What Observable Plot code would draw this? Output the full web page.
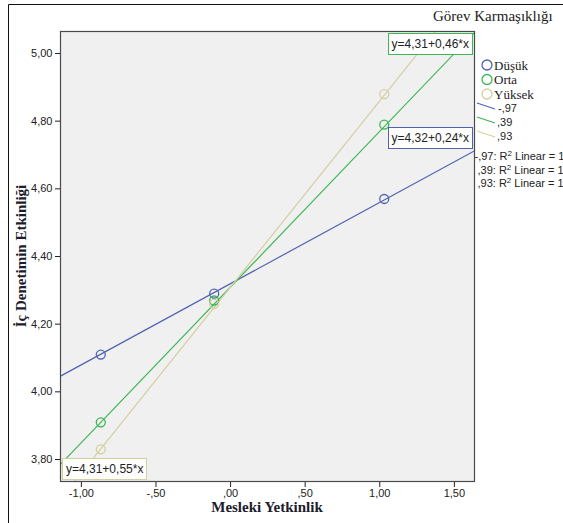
<!DOCTYPE html>
<html><head><meta charset="utf-8">
<script src="https://cdn.jsdelivr.net/npm/d3@7"></script>
<script src="https://cdn.jsdelivr.net/npm/@observablehq/plot@0.6"></script>
<style>
body{margin:0;background:#fff;}
#wrap{position:relative;width:563px;height:523px;overflow:hidden;background:#fff;}
#wrap > svg{position:absolute;left:0;top:0;}
.eq{position:absolute;background:#fff;font:12px/16px 'Liberation Sans',Arial,sans-serif;color:#222;padding:2px 3px;white-space:nowrap;}
</style></head><body><div id="wrap"></div>
<script>
// ---- data ----
const groups = ["Düşük", "Orta", "Yüksek"];
const xValues = [-0.87, -0.11, 1.03];
const dusuk = [4.11, 4.29, 4.57];
const orta = [3.91, 4.27, 4.79];
const yuksek = [3.83, 4.26, 4.88];
const intercepts = [4.32, 4.31, 4.31];
const slopes = [0.24, 0.46, 0.55];
const eqLabels = ["y=4,32+0,24*x", "y=4,31+0,46*x", "y=4,31+0,55*x"];
const lineLegend = ["-,97", ",39", ",93"];
const r2Labels = ["-,97", ",39", ",93"];
const xTicks = [-1, -0.5, 0, 0.5, 1, 1.5];
const yTicks = [3.8, 4.0, 4.2, 4.4, 4.6, 4.8, 5.0];
const xDomain = [-1.14, 1.635];
const yDomain = [3.735, 5.065];
const colors = ["#4f63b2", "#3cb854", "#d4cf9f"];
const legendTitle = "Görev Karmaşıklığı";
const xTitle = "Mesleki Yetkinlik";
const yTitle = "İç Denetimin Etkinliği";

// ---- build tables ----
const series = [dusuk, orta, yuksek];
const points = [];
groups.forEach((g, i) => series[i].forEach((v, j) => points.push({group: g, x: xValues[j], y: v})));
const lineData = [];
groups.forEach((g, i) => xDomain.forEach(x => lineData.push({group: g, x, y: intercepts[i] + slopes[i] * x})));

const loc = d3.formatLocale({decimal: ",", thousands: ".", grouping: [3], currency: ["", ""], minus: "-"});
const f2 = loc.format(".2f");
const fmt = d => f2(d).replace(/^(-?)0,/, "$1,");

const wrap = document.getElementById("wrap");
const W = 563, H = 523;

// ---- background layer: frame, titles, legend ----
const bg = d3.select(wrap).append("svg").attr("width", W).attr("height", H);
bg.append("path").attr("d", `M8.5,${H} V4.5 H${W}`).attr("fill", "none").attr("stroke", "#111");
bg.append("text").text(xTitle).attr("x", 267).attr("y", 512).attr("text-anchor", "middle")
  .attr("font-family", "'Liberation Serif','Times New Roman',serif").attr("font-weight", "bold").attr("font-size", 15).attr("fill", "#1c1c2c");
bg.append("text").text(yTitle).attr("transform", "translate(26,256) rotate(-90)").attr("text-anchor", "middle")
  .attr("font-family", "'Liberation Serif','Times New Roman',serif").attr("font-weight", "bold").attr("font-size", 15).attr("fill", "#1c1c2c");
bg.append("text").text(legendTitle).attr("x", 433).attr("y", 21)
  .attr("font-family", "'Liberation Serif','Times New Roman',serif").attr("font-size", 15).attr("fill", "#222");
groups.forEach((g, i) => {
  const cy = 65 + i * 14.5;
  bg.append("circle").attr("cx", 487).attr("cy", cy).attr("r", 5).attr("fill", "none").attr("stroke", colors[i]).attr("stroke-width", 1.3);
  bg.append("text").text(g).attr("x", 494).attr("y", cy + 4.5)
    .attr("font-family", "'Liberation Serif','Times New Roman',serif").attr("font-size", 13).attr("fill", "#222");
});
lineLegend.forEach((t, i) => {
  const y0 = 103 + i * 14;
  bg.append("line").attr("x1", 477).attr("y1", y0).attr("x2", 495).attr("y2", y0 + 6).attr("stroke", colors[i]).attr("stroke-width", 1.3);
  bg.append("text").text(t).attr("x", t.startsWith("-") ? 498 : 497).attr("y", y0 + 9)
    .attr("font-family", "'Liberation Sans',Arial,sans-serif").attr("font-size", 11).attr("fill", "#222");
});
r2Labels.forEach((t, i) => {
  const tx = bg.append("text").attr("x", t.startsWith("-") ? 474.5 : 477.5).attr("y", 160 + i * 13.5)
    .attr("font-family", "'Liberation Sans',Arial,sans-serif").attr("font-size", 11).attr("fill", "#222");
  tx.append("tspan").text(t + ": R");
  tx.append("tspan").text("2").attr("font-size", 8).attr("dy", -4);
  tx.append("tspan").text(" Linear = 1").attr("dy", 4);
});

// ---- plot ----
const plot = Plot.plot({
  width: W, height: H,
  marginLeft: 60, marginRight: 89, marginTop: 31, marginBottom: 42,
  style: {fontFamily: "'Liberation Sans',Arial,sans-serif", fontSize: "11px", color: "#222", background: "transparent", overflow: "visible"},
  x: {domain: xDomain, ticks: xTicks, tickFormat: fmt, tickSize: 6, tickPadding: 2, label: null},
  y: {domain: yDomain, ticks: yTicks, tickFormat: fmt, tickSize: 5, tickPadding: 3, label: null},
  color: {domain: groups, range: colors},
  marks: [
    Plot.frame({fill: "#f0f0f0"}),
    Plot.line(lineData, {x: "x", y: "y", z: "group", stroke: "group", strokeWidth: 1.2, clip: true}),
    Plot.dot(points, {x: "x", y: "y", stroke: "group", r: 4.5, strokeWidth: 1.3, clip: true}),
    Plot.frame({stroke: "#4a4a4a", strokeWidth: 1.2})
  ]
});
wrap.appendChild(plot);

// ---- equation boxes ----
const sx = plot.scale("x"), sy = plot.scale("y");
const fx = sx.apply ? sx.apply : d3.scaleLinear(sx.domain, sx.range);
const fy = sy.apply ? sy.apply : d3.scaleLinear(sy.domain, sy.range);
const ends = ["right", "right", "left"];
const places = ["above", "below", "above"];
groups.forEach((g, i) => {
  const xa = ends[i] === "right" ? xDomain[1] : xDomain[0];
  let ya = intercepts[i] + slopes[i] * xa;
  ya = Math.max(yDomain[0], Math.min(yDomain[1], ya));
  const px = fx(xa), py = fy(ya);
  const d = document.createElement("div");
  d.className = "eq";
  d.textContent = eqLabels[i];
  d.style.border = `1.5px solid ${colors[i]}`;
  if (ends[i] === "right") d.style.right = (W - px + 1) + "px"; else d.style.left = (px + 2) + "px";
  if (places[i] === "above") d.style.bottom = (H - py + 1) + "px"; else d.style.top = (py + 1) + "px";
  wrap.appendChild(d);
});
</script></body></html>
